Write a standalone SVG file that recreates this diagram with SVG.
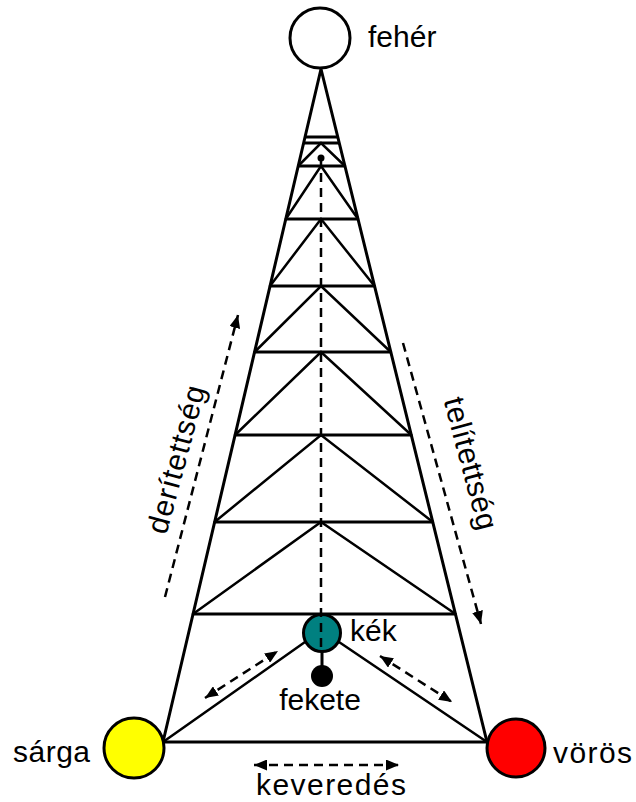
<svg xmlns="http://www.w3.org/2000/svg" width="636" height="802" viewBox="0 0 636 802">
<style>
  .ln{stroke:#000;stroke-width:3;fill:none;stroke-linecap:round}
  .rg{stroke:#000;stroke-width:3;fill:none}
  .dg{stroke:#000;stroke-width:2.5;fill:none;stroke-linecap:round}
  .da{stroke:#000;stroke-width:2.5;fill:none;stroke-dasharray:9 6}
  .node{stroke:#000;stroke-width:3}
  .t{font-family:"Liberation Sans",Arial,sans-serif;font-size:30px;fill:#000}
</style>
<defs>
  <marker id="ah" viewBox="0 0 13 11" refX="13" refY="5.5" markerWidth="13" markerHeight="11" orient="auto-start-reverse" markerUnits="userSpaceOnUse">
    <path d="M0,0 L13,5.5 L0,11 z" fill="#000"/>
  </marker>
</defs>
<rect width="636" height="802" fill="#fff"/>
<g id="connectors">
  <path class="ln" d="M163,742 L321,69 L487,742 Z"/>
  <line class="rg" x1="305" y1="137" x2="337.8" y2="137"/>
  <line class="rg" x1="303.6" y1="143" x2="339.3" y2="143"/>
  <line class="rg" x1="298.2" y1="166" x2="344.9" y2="166"/>
  <line class="rg" x1="285.8" y1="219" x2="358" y2="219"/>
  <line class="rg" x1="270" y1="286" x2="374.5" y2="286"/>
  <line class="rg" x1="254.6" y1="352" x2="390.8" y2="352"/>
  <line class="rg" x1="235.1" y1="435" x2="411.3" y2="435"/>
  <line class="rg" x1="214.6" y1="522" x2="432.8" y2="522"/>
  <line class="rg" x1="193" y1="614" x2="455.5" y2="614"/>
  <path class="dg" d="M298.2,166 L321,143 L344.9,166"/>
  <path class="dg" d="M285.8,219 L321,166 L358,219"/>
  <path class="dg" d="M270,286 L321,219 L374.5,286"/>
  <path class="dg" d="M254.6,352 L321,286 L390.8,352"/>
  <path class="dg" d="M235.1,435 L321,352 L411.3,435"/>
  <path class="dg" d="M214.6,522 L321,435 L432.8,522"/>
  <path class="dg" d="M193,614 L321,522 L455.5,614"/>
  <line class="dg" x1="305" y1="642" x2="163" y2="742"/>
  <line class="dg" x1="339" y1="642" x2="487" y2="742"/>
  <line class="ln" x1="322" y1="650" x2="322" y2="668"/>
  <line class="da" x1="165" y1="597" x2="238" y2="315" marker-end="url(#ah)"/>
  <line class="da" x1="403" y1="343" x2="481" y2="624" marker-end="url(#ah)"/>
  <line class="da" x1="205" y1="698" x2="278" y2="651" marker-start="url(#ah)" marker-end="url(#ah)"/>
  <line class="da" x1="380" y1="656" x2="452" y2="702" marker-start="url(#ah)" marker-end="url(#ah)"/>
  <line class="da" x1="254" y1="765" x2="399" y2="765" marker-start="url(#ah)" marker-end="url(#ah)"/>
  <text class="t" transform="translate(186,462) rotate(-75)" text-anchor="middle" textLength="152" lengthAdjust="spacing">derítettség</text>
  <text class="t" transform="translate(461,466) rotate(75)" text-anchor="middle" textLength="136" lengthAdjust="spacing">telítettség</text>
  <text class="t" x="331" y="795" text-anchor="middle" textLength="150" lengthAdjust="spacing">keveredés</text>
</g>
<g id="feher">
  <circle class="node" cx="320" cy="38" r="30" fill="#fff"/>
  <text class="t" x="368" y="47">fehér</text>
</g>
<g id="sarga">
  <circle class="node" cx="134" cy="748" r="30" fill="#ffff00"/>
  <text class="t" x="13" y="762" textLength="77" lengthAdjust="spacing">sárga</text>
</g>
<g id="voros">
  <circle class="node" cx="516" cy="748" r="29" fill="#ff0000"/>
  <text class="t" x="553" y="763" textLength="79" lengthAdjust="spacing">vörös</text>
</g>
<g id="kek">
  <circle class="node" cx="322" cy="633" r="18.5" fill="#008080"/>
  <text class="t" x="350" y="641">kék</text>
</g>
<g id="fekete">
  <circle cx="322" cy="676" r="11" fill="#000"/>
  <text class="t" x="320" y="710" text-anchor="middle">fekete</text>
</g>
<g id="axis">
  <line class="da" x1="321" y1="158" x2="321" y2="652"/>
  <circle cx="321" cy="158" r="3.5" fill="#000"/>
</g>
</svg>
